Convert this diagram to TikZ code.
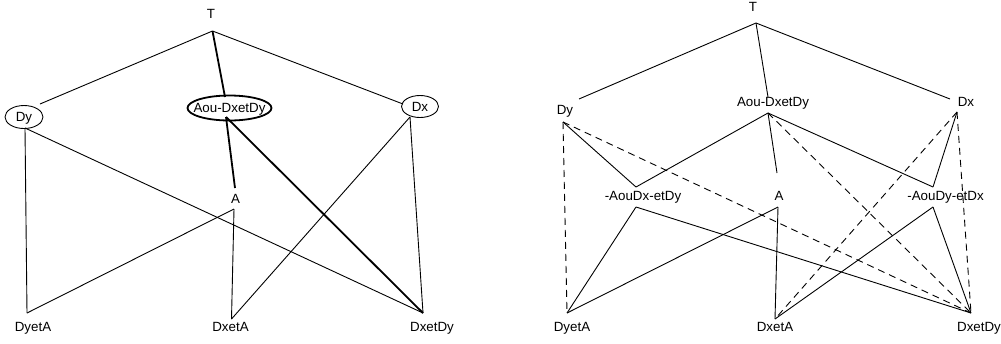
\documentclass[tikz,border=0pt]{standalone}
\usepackage{fontspec}
\setmainfont{Liberation Sans}
\usetikzlibrary{shapes.geometric}
\tikzset{
  lbl/.style={font=\fontsize{13.4}{16}\selectfont,inner sep=0pt,
    text height=9.6bp,text depth=0pt},
  oval/.style={lbl,draw,ellipse,line width=0.9bp},
  link/.style={line width=0.9bp},
  heavy/.style={line width=1.8bp},
  weak/.style={link,dash pattern=on 7bp off 5bp}
}

\begin{document}
\begin{tikzpicture}[x=1bp,y=-1bp]
  \useasboundingbox (0,0) rectangle (1001,343);
  % Left lattice
  \node[lbl] (T1) at (211,14) {T};
  \node[oval,minimum width=38bp,minimum height=23bp] (Dy1) at (24,117) {\makebox[0pt]{Dy}};
  \node[oval,heavy,minimum width=84bp,minimum height=25bp] (Aod1) at (229.5,108) {\makebox[0pt]{Aou-DxetDy}};
  \node[oval,minimum width=37bp,minimum height=22bp] (Dx1) at (420,106.5) {\makebox[0pt]{Dx}};
  \node[lbl] (A1) at (235.5,199) {A};
  \node[lbl] (DyetA1) at (33,327) {DyetA};
  \node[lbl] (DxetA1) at (230.5,327) {DxetA};
  \node[lbl] (DxetDy1) at (432,327) {DxetDy};
  \coordinate (T1-b) at (212.5,31);
  \coordinate (Dy1-t) at (40,104);
  \coordinate (Dy1-b) at (25,128);
  \coordinate (Aod1-t) at (225,97);
  \coordinate (Aod1-b) at (226,117);
  \coordinate (Dx1-t) at (403,104);
  \coordinate (Dx1-b) at (410,117);
  \coordinate (A1-t) at (235,188);
  \coordinate (A1-b) at (234,209);
  \coordinate (DyetA1-t) at (27,313);
  \coordinate (DxetA1-t) at (231.5,319);
  \coordinate (DxetDy1-t) at (423,313);
  \draw[link] (T1-b) -- (Dy1-t);
  \draw[link] (T1-b) -- (Dx1-t);
  \draw[heavy] (T1-b) -- (Aod1-t);
  \draw[heavy] (Aod1-b) -- (A1-t);
  \draw[heavy] (Aod1-b) -- (DxetDy1-t);
  \foreach \a/\b in {Dy1-b/DyetA1-t, Dy1-b/DxetDy1-t, Dx1-b/DxetA1-t,
                     Dx1-b/DxetDy1-t, A1-b/DyetA1-t, A1-b/DxetA1-t}
    \draw[link] (\a) -- (\b);
  % Right lattice
  \node[lbl] (T2) at (753,7) {T};
  \node[lbl] (Dy2) at (565,110) {Dy};
  \node[lbl] (Aod2) at (773,102) {Aou-DxetDy};
  \node[lbl] (Dx2) at (966,101.5) {Dx};
  \node[lbl] (ADx2) at (643,195.5) {-AouDx-etDy};
  \node[lbl] (A2) at (779,196) {A};
  \node[lbl] (ADy2) at (945.5,195.5) {-AouDy-etDx};
  \node[lbl] (DyetA2) at (572,327) {DyetA};
  \node[lbl] (DxetA2) at (775,327) {DxetA};
  \node[lbl] (DxetDy2) at (979,327) {DxetDy};
  \coordinate (T2-b) at (756,23);
  \coordinate (Dy2-t) at (579,99);
  \coordinate (Dy2-b) at (563,122);
  \coordinate (Aod2-t) at (768,97);
  \coordinate (Aod2-b) at (768,113);
  \coordinate (Dx2-t) at (950,99);
  \coordinate (Dx2-b) at (957,112);
  \coordinate (ADx2-t) at (636,187);
  \coordinate (ADx2-b) at (636,207);
  \coordinate (A2-t) at (777,173);
  \coordinate (A2-b) at (778,207);
  \coordinate (ADy2-t) at (933,187);
  \coordinate (ADy2-b) at (933,207);
  \coordinate (DyetA2-t) at (567,313);
  \coordinate (DxetA2-t) at (775,319);
  \coordinate (DxetDy2-t) at (971,313);
  \foreach \a/\b in {T2-b/Dy2-t, T2-b/Aod2-t, T2-b/Dx2-t, Dy2-b/ADx2-t,
                     Aod2-b/ADx2-t, Aod2-b/A2-t, Aod2-b/ADy2-t, Dx2-b/ADy2-t,
                     ADx2-b/DyetA2-t, ADx2-b/DxetDy2-t, A2-b/DyetA2-t,
                     A2-b/DxetA2-t, ADy2-b/DxetA2-t, ADy2-b/DxetDy2-t}
    \draw[link] (\a) -- (\b);
  \foreach \a/\b in {Dy2-b/DyetA2-t, Dy2-b/DxetDy2-t, Aod2-b/DxetDy2-t,
                     Dx2-b/DxetA2-t, Dx2-b/DxetDy2-t}
    \draw[weak] (\a) -- (\b);
\end{tikzpicture}
\end{document}
